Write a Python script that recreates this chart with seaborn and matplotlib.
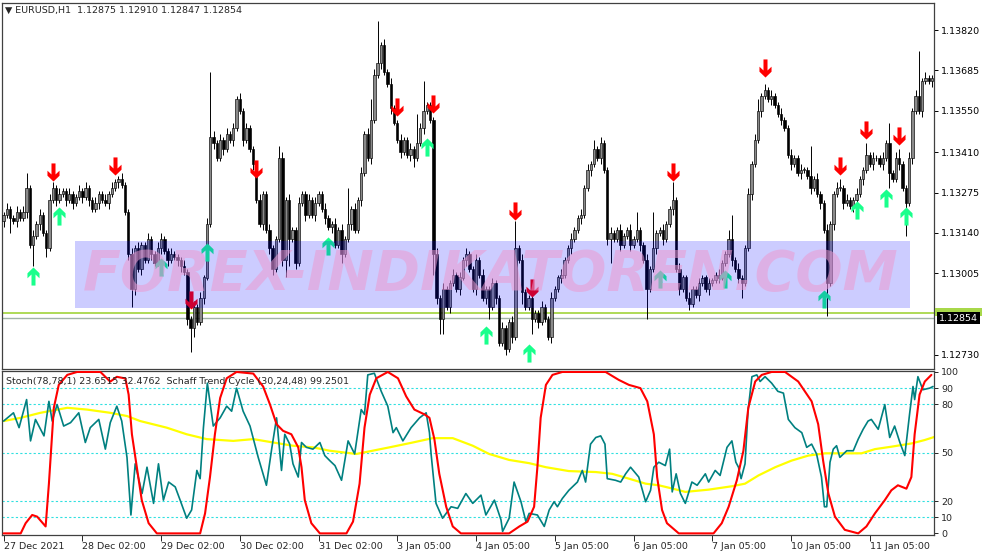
import numpy as np
import pandas as pd
import matplotlib
matplotlib.use("Agg")
import matplotlib.pyplot as plt
from matplotlib.path import Path
from matplotlib.patches import Rectangle
import seaborn as sns

# EURUSD H1 candles, prices in pips (1.1320 -> 11320), open = previous close
first_open = 11318
closes = [
    11320, 11322, 11319, 11318, 11321, 11319, 11321, 11329, 11310, 11313, 11317, 11320, 11314, 11309, 11325, 11329, 11325, 11327, 11328, 11325,
    11327, 11324, 11326, 11328, 11326, 11329, 11325, 11322, 11324, 11327, 11325, 11324, 11327, 11329, 11331, 11332, 11330, 11321, 11307, 11295,
    11309, 11302, 11310, 11305, 11312, 11307, 11304, 11309, 11312, 11308, 11305, 11307, 11306, 11305, 11303, 11301, 11285, 11282, 11289, 11284,
    11292, 11299, 11317, 11346, 11344, 11339, 11345, 11342, 11347, 11345, 11349, 11359, 11355, 11345, 11349, 11342, 11337, 11325, 11317, 11327,
    11315, 11309, 11302, 11312, 11339, 11305, 11325, 11312, 11315, 11304, 11324, 11327, 11320, 11325, 11320, 11324, 11327, 11322, 11319, 11316,
    11317, 11310, 11315, 11307, 11312, 11317, 11322, 11315, 11325, 11334, 11347, 11339, 11352, 11367, 11371, 11377, 11368, 11364, 11356, 11351,
    11345, 11341, 11345, 11340, 11342, 11339, 11344, 11349, 11355, 11357, 11352, 11307, 11292, 11285, 11295, 11289, 11297, 11300, 11295, 11299,
    11305, 11307, 11302, 11295, 11305, 11300, 11292, 11295, 11289, 11297, 11292, 11277, 11282, 11275, 11284, 11279, 11309, 11305, 11294, 11289,
    11292, 11285, 11287, 11284, 11289, 11285, 11279, 11292, 11295, 11299, 11300, 11305, 11309, 11312, 11315, 11319, 11320, 11329, 11335, 11337,
    11342, 11339, 11344, 11335, 11312, 11314, 11312, 11315, 11310, 11313, 11315, 11310, 11312, 11315, 11310, 11305, 11295, 11302, 11309, 11314,
    11315, 11312, 11317, 11322, 11325, 11302, 11295, 11299, 11292, 11290, 11295, 11293, 11297, 11299, 11295, 11297, 11298, 11300, 11299, 11304,
    11307, 11312, 11305, 11302, 11299, 11297, 11309, 11327, 11337, 11345, 11355, 11360, 11362, 11359, 11360, 11357, 11354, 11352, 11349, 11340,
    11337, 11339, 11334, 11335, 11335, 11333, 11329, 11332, 11327, 11324, 11315, 11297, 11317, 11327, 11329, 11329, 11324, 11325, 11323, 11325,
    11327, 11332, 11335, 11340, 11337, 11339, 11339, 11337, 11339, 11344, 11334, 11332, 11339, 11337, 11329, 11324, 11339, 11355, 11360, 11355,
    11365, 11366, 11365, 11366,
]
upper_wick = [
    1, 2, 1, 1, 2, 1, 2, 5, 1, 2, 1, 2, 1, 1, 2, 2, 1, 2, 1, 1,
    2, 1, 1, 2, 1, 2, 1, 1, 2, 1, 1, 2, 1, 2, 1, 1, 2, 1, 1, 2,
    1, 2, 1, 1, 2, 1, 1, 2, 2, 1, 1, 2, 1, 1, 1, 2, 1, 1, 2, 1,
    2, 1, 2, 22, 2, 1, 2, 1, 2, 1, 2, 1, 2, 1, 2, 1, 1, 1, 2, 1,
    1, 2, 1, 1, 4, 2, 1, 2, 1, 1, 2, 1, 1, 2, 1, 2, 1, 1, 2, 1,
    1, 2, 1, 2, 1, 12, 1, 2, 1, 2, 1, 2, 7, 2, 14, 1, 2, 1, 2, 1,
    1, 2, 1, 1, 2, 1, 10, 2, 10, 1, 1, 1, 2, 1, 2, 1, 1, 2, 1, 2,
    1, 2, 1, 1, 2, 1, 2, 1, 1, 2, 1, 1, 2, 1, 1, 2, 9, 1, 2, 1,
    1, 2, 1, 1, 2, 1, 1, 2, 1, 1, 2, 1, 1, 2, 1, 1, 2, 1, 2, 1,
    3, 1, 2, 1, 1, 2, 1, 1, 2, 1, 1, 2, 1, 6, 1, 1, 2, 1, 12, 1,
    1, 2, 1, 1, 6, 1, 2, 1, 1, 2, 1, 1, 2, 1, 1, 2, 1, 1, 2, 1,
    1, 3, 8, 1, 2, 1, 1, 2, 1, 2, 4, 1, 2, 1, 2, 1, 1, 2, 1, 1,
    2, 1, 1, 2, 1, 1, 10, 1, 2, 1, 1, 2, 1, 1, 2, 3, 1, 2, 1, 1,
    2, 1, 1, 4, 1, 2, 1, 1, 2, 1, 7, 1, 2, 3, 1, 1, 2, 1, 2, 15,
    1, 2, 1, 1,
]
lower_wick = [
    2, 1, 5, 1, 2, 1, 1, 2, 1, 7, 1, 2, 1, 3, 1, 1, 2, 1, 1, 2,
    1, 2, 1, 1, 2, 1, 2, 1, 1, 2, 1, 1, 2, 1, 1, 2, 1, 1, 2, 6,
    2, 1, 2, 1, 1, 2, 1, 1, 2, 1, 2, 1, 1, 2, 2, 1, 2, 8, 3, 1,
    1, 2, 1, 1, 2, 1, 1, 2, 1, 1, 2, 1, 1, 2, 1, 1, 2, 1, 1, 2,
    1, 2, 2, 1, 1, 2, 6, 9, 1, 2, 1, 1, 2, 1, 1, 2, 1, 1, 2, 1,
    2, 1, 1, 3, 1, 1, 2, 1, 1, 2, 1, 1, 2, 1, 1, 2, 1, 1, 2, 1,
    1, 2, 1, 1, 2, 3, 1, 1, 2, 1, 1, 7, 2, 5, 5, 1, 2, 1, 1, 2,
    1, 2, 1, 1, 2, 1, 1, 2, 4, 1, 2, 1, 1, 2, 1, 2, 1, 1, 4, 1,
    1, 5, 1, 2, 1, 1, 1, 2, 1, 1, 2, 1, 1, 2, 1, 1, 2, 1, 1, 2,
    1, 1, 2, 1, 2, 8, 1, 1, 2, 1, 1, 2, 1, 1, 2, 1, 10, 1, 1, 2,
    1, 2, 1, 1, 2, 1, 2, 1, 1, 2, 1, 1, 2, 1, 1, 2, 1, 1, 2, 1,
    1, 1, 2, 1, 2, 5, 1, 1, 2, 1, 1, 2, 1, 1, 2, 1, 1, 2, 1, 1,
    2, 1, 1, 2, 1, 1, 2, 1, 1, 2, 1, 11, 1, 2, 1, 1, 2, 1, 1, 2,
    5, 1, 2, 1, 1, 2, 1, 1, 2, 1, 5, 1, 1, 2, 1, 11, 1, 2, 1, 1,
    2, 1, 1, 2,
]

# signal arrows (bar index, price in pips)
sell_bars = [15, 34, 57, 77, 120, 131, 156, 161, 204, 232, 255, 263, 273]
sell_pips = [11334, 11336, 11291, 11335, 11356, 11357, 11321, 11295, 11334, 11369, 11336, 11348, 11346]
buy_bars = [9, 17, 48, 62, 99, 129, 147, 160, 200, 220, 250, 260, 269, 275]
buy_pips = [11300, 11320, 11303, 11308, 11310, 11343, 11280, 11274, 11299, 11299, 11292, 11322, 11326, 11320]

bid_price = 1.12854
ask_price = 1.12870
price_ticks = [1.12730, 1.13005, 1.13140, 1.13275, 1.13410, 1.13550, 1.13685, 1.13820]
date_ticks = [0, 24, 48, 72, 96, 120, 144, 168, 192, 216, 240, 264]
date_labels = ['27 Dec 2021', '28 Dec 02:00', '29 Dec 02:00', '30 Dec 02:00', '31 Dec 02:00', '3 Jan 05:00',
               '4 Jan 05:00', '5 Jan 05:00', '6 Jan 05:00', '7 Jan 05:00', '10 Jan 05:00', '11 Jan 05:00']

# indicator window
stoch_bar = [0, 3, 4.7, 7, 8.2, 9.7, 12.3, 13.8, 14.8, 16.3, 18.3, 20.4, 22.9, 24.9, 26.4, 29, 31, 32.5, 34.5, 36,
             37.6, 38.8, 40.1, 42.2, 43.7, 45.7, 47.2, 48.7, 50.3, 52.3, 53.8, 55.8, 57.3, 58.9, 59.9, 60.9, 62.1, 63.9, 66, 68,
             69.5, 71, 73, 75.1, 77.6, 80.1, 81.7, 83.2, 84.7, 85.7, 87.2, 88.2, 89.8, 90.8, 92.3, 94.3, 96.4, 97.9, 99.4,
             101, 103, 105, 107, 109, 110, 111, 113, 115.1, 117.1, 118.7, 119.7, 121.7, 124.2, 126.8, 128.8, 129.8, 130.3, 131.8, 133.8,
             136.4, 138.4, 140.9, 143, 145.5, 147, 149.6, 151.6, 152.1, 154.1, 155.6, 157.7, 159.2, 160.2, 162.7, 164.8, 166.3, 167.8, 168.8, 170.3,
             172.3, 174.9, 176.4, 177.4, 178.9, 180.5, 182, 183.3, 184, 186.5, 188.1, 189.6, 191.1, 193.6, 195.7, 197.2, 198.2, 199.7,
             201.7, 203, 203.8, 205, 206.3, 207.8, 209.8, 211.4, 213.9, 214.9, 216.9, 218.4, 220.5, 222, 223.2, 224, 224.8, 226, 226.9, 228.1,
             229.6, 230.6, 232.1, 234.1, 236, 237.7, 239.2, 241.2, 243.3, 244.8, 246.3, 247.8, 249.3, 250.2, 250.9, 251.9, 252.9, 253.9, 254.9, 257,
             259, 260.5, 262, 263.5, 264.5, 266.6, 268.6, 270.1, 271.6, 273.2, 274.7, 276.2, 277.2, 277.7, 278.7, 280.2, 282.3, 283.3]
stoch_val = [69.6, 74.7, 65.5, 82.9, 57.3, 70.6, 60.4, 81.8, 69.6, 79.8, 66.5, 68.6, 74.7, 56.3, 65.5, 70.6, 52.2, 68.6, 78.8, 69.6,
             47.1, 11.4, 43.1, 24.7, 41, 18.6, 43.1, 20.6, 31.8, 28.8, 20.6, 9.4, 14.5, 39, 33.9, 65.5, 93.1, 66.5, 71.6, 78.8,
             75.7, 90, 75.7, 66.5, 47.1, 29.8, 52.2, 71.6, 39, 61.4, 55.3, 43.1, 34.9, 56.3, 53.3, 52.2, 56.3, 48.2, 45.1,
             42, 32.9, 57.3, 49.2, 76.7, 73.7, 98.2, 99.2, 88, 78.8, 62.4, 65.5, 57.3, 65.5, 71.6, 74.7, 62.4, 49.2, 18.6, 9.4,
             16.5, 15.5, 24.7, 18.6, 23.7, 11.4, 20.6, 8.4, 1.2, 9.4, 31.8, 19.6, 7.3, 12.4, 11.4, 4.3, 14.5, 19.6, 16.5, 21.6,
             26.7, 31.8, 39, 31.8, 55.3, 59.4, 60.4, 55.3, 33.9, 32.9, 31.8, 36.9, 41, 34.9, 19.6, 26.7, 41, 44.1,
             42, 52.2, 25.7, 36.9, 24.7, 18.6, 31.8, 29.8, 36.9, 31.8, 39, 35.9, 53.3, 57.3, 44.1, 41, 33.9, 43.1, 75.7, 97.1,
             98.2, 94.1, 97.1, 93.1, 88, 86.9, 70.6, 65.5, 62.4, 53.3, 55.3, 49.2, 34.9, 16.5, 16.5, 44.1, 52.2, 54.3, 47.1, 51.2,
             51.2, 58.4, 64.5, 69.6, 70.6, 64.5, 79.8, 59.4, 66.5, 56.3, 48.2, 74.7, 91, 82.9, 97.1, 89, 90, 91]

stc_bar = [0, 5.2, 6.7, 8.7, 10.2, 12.8, 13.8, 15.3, 16.8, 19.4, 22.4, 29.5, 32.5, 34.5, 37.1, 38.1, 39.1, 40.6, 42.1, 44.2,
           46.7, 59.9, 61.4, 62.9, 64.4, 66, 68, 71, 76.1, 79.1, 81.2, 83.2, 85.2, 87.7, 89.8, 90.8, 91.8, 93.8, 96.4, 104.5,
           106.5, 108.5, 110, 111.6, 113.6, 117.1, 120.2, 122.7, 125.2, 128.3, 129.8, 131.3, 132.8, 134.9, 136.9, 139.4, 154.1, 157.2, 159.7, 161.7,
           162.7, 163.7, 165.3, 167.3, 170.3, 183.5, 187.5, 190.6, 194.1, 196.2, 198.2, 199.2, 200.7, 202.2, 205.8, 216.4, 218.9, 221, 223.5, 225.5,
           227, 229.1, 231.1, 234.1, 238.2, 242.2, 246.3, 248.3, 249.8, 251.4, 253.4, 256.4, 260.5, 263, 265.6, 268.6, 270.6, 272.6, 275.2, 276.7,
           277.7, 279.2, 280.8, 282.8]
stc_val = [0, 0, 6.3, 11.4, 10.4, 4.3, 30.8, 77.8, 92, 98.2, 100, 100, 94, 97, 96, 86, 61.4, 41, 20.6, 6.3,
           0, 0, 12.4, 34.9, 61.4, 83.9, 96.1, 100, 99, 91, 79.8, 67.6, 63.5, 61.4, 53.3, 41, 20.6, 6.3, 0, 0,
           7.3, 30.8, 65.5, 85.9, 96.1, 100, 96.1, 84.9, 76.7, 73.7, 71.6, 58.4, 36.9, 16.5, 4.3, 0, 0, 4.3, 7.3, 16.5,
           41, 71.6, 92, 98.2, 100, 100, 95.1, 92, 90, 81.8, 61.4, 34.9, 14.5, 6.3, 0, 0, 6.3, 16.5, 32.9, 51.2,
           77.8, 94.1, 98.2, 100, 100, 94.1, 81.8, 67.6, 45.1, 24.7, 10.4, 2.2, 0, 4.3, 12.4, 20.6, 26.7, 29.8, 27.7, 34.9,
           61.4, 86, 94.1, 98.2]

sig_bar = [0, 5.2, 11.2, 19.4, 25.4, 32.5, 37.6, 41.6, 49.7, 55.8, 61.9, 70, 76.1, 82.2, 88.2, 94.3, 99.4, 103.5, 107.5, 117.6,
           124.7, 130.8, 136.9, 143, 148, 154.1, 160.2, 165.3, 172.3, 180.5, 185.5, 190.6, 195.7, 199.7, 203.8, 207.8, 214.9, 222, 226, 230.1,
           235.2, 240.2, 245.3, 250.4, 255.4, 261.5, 265.6, 270.6, 276.7, 280.7, 283.8]
sig_val = [69.6, 71.6, 74.7, 77.8, 76.7, 74.7, 72.7, 69.6, 65.5, 61.4, 58.4, 57.3, 58.4, 56.3, 54.3, 53.3, 51.2, 50.2, 49.2, 53.3,
           56.3, 59, 59, 54.3, 49.2, 45.5, 43.5, 41, 38.6, 38, 36.9, 33.9, 30.8, 29.8, 27.8, 25.7, 27.1, 29.2, 30.8, 35.9,
           41, 45.1, 48.2, 49.6, 49.6, 49.6, 52.2, 53.7, 55.7, 57.8, 59.8]
levels = [10, 20, 50, 80, 90]
osc_ticks = [0, 10, 20, 50, 80, 90, 100]

# build candle table
df = pd.DataFrame({'close': np.array(closes) / 1e4})
df['open'] = np.r_[first_open, closes[:-1]] / 1e4
df['top'] = df[['open', 'close']].max(axis=1)
df['bot'] = df[['open', 'close']].min(axis=1)
df['high'] = df['top'] + np.array(upper_wick) / 1e4
df['low'] = df['bot'] - np.array(lower_wick) / 1e4
df['bar'] = np.arange(len(df))
df['up'] = df['close'] >= df['open']

sns.set_style("white")
plt.rcParams['font.family'] = ['DejaVu Sans']
fs = 6.8

fig = plt.figure(figsize=(9.87, 5.55), dpi=100)
ax = fig.add_axes([2 / 987, 186 / 555, 932 / 987, 366 / 555])
ax2 = fig.add_axes([2 / 987, 20 / 555, 932 / 987, 164 / 555])

# candles
ax.vlines(df['bar'], df['low'], df['high'], color='black', lw=0.7, zorder=2)
heights = np.maximum(df['top'] - df['bot'], 0.000025)
ax.bar(df['bar'], heights, bottom=df['bot'], width=0.72,
       color=np.where(df['up'], '#8a8a8a', 'black'), edgecolor='black', linewidth=0.45, zorder=3)

# arrow markers (shaft + chevron head)
arrow_down = Path([(-0.2, 1), (0.2, 1), (0.2, -0.1), (0.6, 0.28), (0.6, -0.22), (0, -0.8),
                   (-0.6, -0.22), (-0.6, 0.28), (-0.2, -0.1), (-0.2, 1)])
arrow_up = Path([(x, -y) for x, y in arrow_down.vertices])
ax.scatter(sell_bars, np.array(sell_pips) / 1e4, marker=arrow_down, s=210, color='#ff0000', linewidths=0, zorder=4)
ax.scatter(buy_bars, np.array(buy_pips) / 1e4, marker=arrow_up, s=210, color='#19ff8c', linewidths=0, zorder=4)

# watermark
ax.fill_between([21.9, 276.3], 1.12889, 1.13111, color='#0000ff', alpha=0.2, lw=0, zorder=5)
ax.text(148.6, 1.13000, 'FOREX-INDIKATOREN.COM', ha='center', va='center', fontsize=40,
        fontweight='bold', style='italic', color='#ec9ad0', alpha=0.55, zorder=6)

# bid / ask lines
ax.axhline(ask_price, color='#a8d84a', lw=1.3, zorder=1)
ax.axhline(bid_price, color='#a0b4a8', lw=1.0, zorder=1)
ytr = ax.get_yaxis_transform()
ax.add_patch(Rectangle((1.001, ask_price - 0.0001), 0.05, 0.00026, transform=ytr,
                       fc='#a8d84a', ec='none', clip_on=False, zorder=8))
ax.text(1.005, bid_price, '%.5f' % bid_price, transform=ytr, va='center', ha='left', fontsize=fs,
        color='white', bbox=dict(boxstyle='square,pad=0.2', fc='black', ec='none'), clip_on=False, zorder=10)

ax.set_xlim(-0.5, 283.6)
ax.set_ylim(1.12683, 1.13911)
ax.yaxis.tick_right()
ax.set_yticks(price_ticks, ['%.5f' % p for p in price_ticks])
ax.set_xticks([])
ax.tick_params(axis='y', direction='out', length=3, width=0.7, labelsize=fs, pad=2, right=True, colors='black')

fig.text(5 / 987, 1 - 10 / 555, '\u25bc EURUSD,H1  1.12875 1.12910 1.12847 1.12854', fontsize=fs, va='center')

# oscillator panel
for lv in levels:
    ax2.axhline(lv, color='#30e0e0', lw=0.8, ls=(0, (2, 2)), zorder=1)
sns.lineplot(x=sig_bar, y=sig_val, ax=ax2, color='#ffff00', lw=1.6, sort=False, estimator=None, zorder=2)
sns.lineplot(x=stoch_bar, y=stoch_val, ax=ax2, color='#008080', lw=1.2, sort=False, estimator=None, zorder=3)
sns.lineplot(x=stc_bar, y=stc_val, ax=ax2, color='#ff0000', lw=1.5, sort=False, estimator=None, zorder=4)
ax2.text(0.004, 0.935, 'Stoch(78,78,1) 23.6515 32.4762  Schaff Trend Cycle (30,24,48) 99.2501',
         transform=ax2.transAxes, fontsize=fs, va='center', ha='left', zorder=6)

ax2.set_xlim(-0.5, 283.6)
ax2.set_ylim(-1, 100.6)
ax2.yaxis.tick_right()
ax2.set_yticks(osc_ticks, [str(t) for t in osc_ticks])
ax2.set_xticks(date_ticks, date_labels, ha='left')
ax2.tick_params(axis='y', direction='out', length=3, width=0.7, labelsize=fs, pad=2, right=True)
ax2.tick_params(axis='x', direction='out', length=4, width=0.7, labelsize=fs, pad=1, bottom=True)
ax2.set_xlabel('')
ax2.set_ylabel('')

for a in (ax, ax2):
    for sp in a.spines.values():
        sp.set_color('#404040')
        sp.set_linewidth(0.9)

fig.savefig('out.png', dpi=100, facecolor='white')
